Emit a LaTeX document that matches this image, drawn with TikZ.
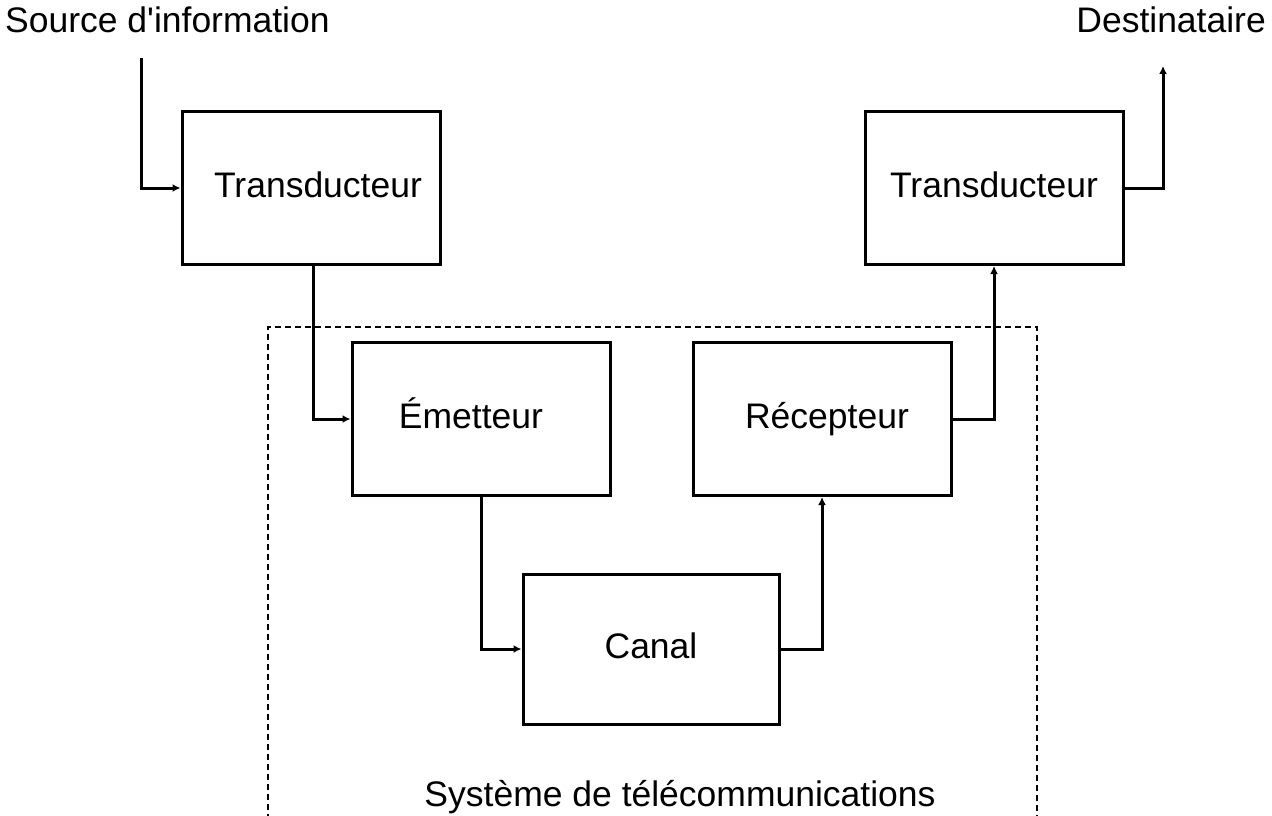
\documentclass[tikz,border=0pt]{standalone}
\usepackage{fontspec}
\setmainfont{Liberation Sans}
\usetikzlibrary{arrows.meta}
\begin{document}
\begin{tikzpicture}[x=1pt,y=-1pt,
  bloc/.style={draw,line width=3pt,minimum width=258pt,minimum height=153pt,inner sep=0pt,
    font=\fontsize{35.5}{40}\selectfont,text height=25pt,text depth=7pt},
  lien/.style={line width=3pt,-{Latex[length=8pt,width=8pt]}},
  etiquette/.style={font=\fontsize{35.5}{40}\selectfont,inner sep=0pt,text height=25pt,text depth=7pt},
  cadre/.style={line width=2.6pt,dash pattern=on 6pt off 4pt}]
\useasboundingbox (0,0) rectangle (1272,816);

% blocs
\node[bloc] (t1) at (311,188) {\hspace*{14pt}Transducteur};
\node[bloc] (t2) at (994,188) {Transducteur};
\node[bloc] (em) at (481,419) {Émetteur\hspace*{20pt}};
\node[bloc] (rc) at (822,419) {\hspace*{10pt}Récepteur};
\node[bloc,minimum width=256pt,minimum height=150pt] (ca) at (651,649) {Canal};

% textes extrêmes
\node[etiquette,anchor=west] (src) at (5,24) {Source d\textquotesingle information};
\node[etiquette,anchor=east] (dst) at (1266,24) {Destinataire};
\coordinate (srcbas) at (141,58);
\coordinate (dsthaut) at (1163,66);

% sous-système de télécommunications (cadre ouvert en bas)
\coordinate (c1) at (268,820);
\coordinate (c2) at (268,327);
\coordinate (c3) at (1037,327);
\coordinate (c4) at (1037,820);
\draw[cadre] (c1) -- (c2) -- (c3) -- (c4);
\node[etiquette] (sys) at (680,797) {Système de télécommunications};

% liaisons
\draw[lien] (srcbas) |- (t1.west);
\draw[lien] (t1.south -| 313,0) |- (em.west);
\draw[lien] (em.south) |- (ca.west);
\draw[lien] (ca.east) -| (rc.south);
\draw[lien] (rc.east) -| (t2.south);
\draw[lien] (t2.east) -| (dsthaut);
\end{tikzpicture}
\end{document}
